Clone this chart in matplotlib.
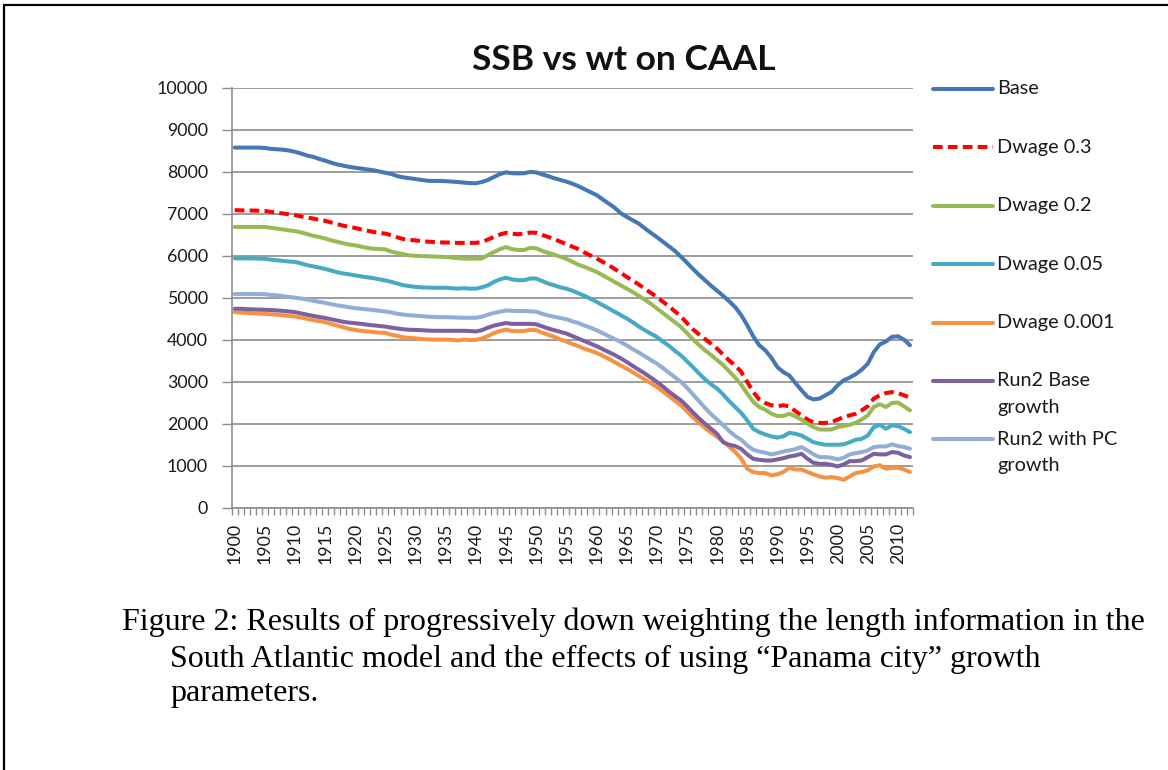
import numpy as np
import matplotlib
matplotlib.use("Agg")
import matplotlib.pyplot as plt
from matplotlib.lines import Line2D

W, H = 1168, 770

years = np.arange(1900, 2013)

base = [8580, 8580, 8580, 8580, 8580, 8570, 8550, 8540, 8530, 8510,
        8480, 8440, 8390, 8360, 8310, 8270, 8220, 8180, 8150, 8120,
        8100, 8080, 8060, 8040, 8010, 7980, 7950, 7900, 7870, 7850,
        7830, 7810, 7790, 7785, 7785, 7780, 7770, 7760, 7745, 7735,
        7730, 7760, 7810, 7880, 7950, 7990, 7970, 7965, 7970, 8000,
        7990, 7940, 7900, 7850, 7810, 7770, 7720, 7660, 7590, 7520,
        7450, 7350, 7250, 7150, 7020, 6930, 6850, 6770, 6660, 6550,
        6450, 6340, 6230, 6120, 5980, 5840, 5690, 5550, 5420, 5290,
        5170, 5050, 4920, 4780, 4590, 4350, 4085, 3870, 3750, 3575,
        3350, 3230, 3150, 2970, 2800, 2640, 2580, 2600, 2680, 2760,
        2920, 3035, 3100, 3180, 3290, 3430, 3710, 3890, 3960, 4070,
        4085, 4005, 3870]

dwage_03 = [7090, 7085, 7080, 7080, 7075, 7070, 7050, 7030, 7010, 6990,
            6970, 6940, 6915, 6890, 6860, 6835, 6795, 6755, 6720, 6690,
            6665, 6630, 6600, 6570, 6550, 6530, 6490, 6440, 6400, 6380,
            6370, 6350, 6340, 6330, 6320, 6320, 6315, 6310, 6310, 6310,
            6310, 6330, 6390, 6450, 6510, 6550, 6530, 6515, 6530, 6555,
            6550, 6500, 6450, 6400, 6340, 6280, 6220, 6160, 6080, 6010,
            5940, 5860, 5780, 5690, 5600, 5500, 5410, 5320, 5220, 5120,
            5025, 4910, 4800, 4680, 4560, 4400, 4250, 4130, 4020, 3910,
            3790, 3650, 3510, 3390, 3240, 3000, 2760, 2580, 2495, 2440,
            2420, 2440, 2415, 2300, 2200, 2100, 2035, 2020, 2020, 2040,
            2100, 2160, 2200, 2240, 2320, 2415, 2600, 2680, 2730, 2755,
            2730, 2680, 2620]

dwage_02 = [6690, 6690, 6690, 6690, 6690, 6690, 6670, 6650, 6630, 6610,
            6590, 6560, 6520, 6480, 6450, 6415, 6370, 6335, 6300, 6270,
            6250, 6220, 6190, 6170, 6165, 6155, 6100, 6070, 6040, 6010,
            6000, 5995, 5990, 5985, 5980, 5975, 5960, 5945, 5935, 5935,
            5935, 5940, 6020, 6090, 6160, 6210, 6160, 6140, 6140, 6190,
            6180, 6120, 6070, 6030, 5980, 5930, 5860, 5790, 5740, 5680,
            5620, 5540, 5460, 5380, 5300, 5220, 5140, 5050, 4960, 4860,
            4750, 4640, 4530, 4420, 4310, 4160, 4010, 3880, 3750, 3640,
            3520, 3400, 3250, 3100, 2930, 2720, 2520, 2400, 2335, 2240,
            2185, 2185, 2240, 2175, 2100, 2000, 1920, 1865, 1860, 1865,
            1920, 1945, 1975, 2025, 2100, 2200, 2400, 2465, 2400, 2495,
            2505, 2415, 2320]

dwage_005 = [5940, 5940, 5940, 5940, 5935, 5930, 5910, 5895, 5880, 5865,
             5855, 5820, 5780, 5750, 5720, 5690, 5650, 5610, 5580, 5560,
             5535, 5510, 5490, 5470, 5440, 5415, 5380, 5340, 5300, 5280,
             5260, 5250, 5245, 5240, 5240, 5240, 5230, 5220, 5230, 5220,
             5220, 5250, 5300, 5380, 5440, 5480, 5440, 5420, 5420, 5460,
             5460, 5400, 5340, 5300, 5250, 5220, 5170, 5110, 5050, 4980,
             4905, 4830, 4750, 4670, 4590, 4510, 4420, 4320, 4230, 4150,
             4070, 3960, 3860, 3740, 3630, 3490, 3350, 3200, 3060, 2940,
             2840, 2700, 2540, 2400, 2260, 2080, 1880, 1800, 1745, 1700,
             1670, 1700, 1785, 1760, 1720, 1640, 1560, 1525, 1500, 1500,
             1500, 1510, 1560, 1620, 1640, 1720, 1920, 1975, 1880, 1960,
             1945, 1880, 1800]

dwage_0001 = [4660, 4650, 4640, 4630, 4625, 4620, 4610, 4600, 4585, 4570,
              4555, 4530, 4500, 4470, 4445, 4420, 4380, 4340, 4300, 4260,
              4235, 4215, 4200, 4185, 4170, 4165, 4120, 4090, 4060, 4045,
              4035, 4020, 4010, 4005, 4005, 4005, 4000, 3985, 4005, 3995,
              4000, 4030, 4090, 4160, 4210, 4245, 4210, 4205, 4210, 4235,
              4230, 4170, 4120, 4070, 4010, 3960, 3900, 3850, 3790, 3740,
              3690, 3620, 3550, 3470, 3390, 3315, 3230, 3140, 3055, 2970,
              2880, 2770, 2660, 2550, 2440, 2300, 2150, 2030, 1900, 1790,
              1690, 1580, 1460, 1330, 1170, 930, 850, 825, 825, 770,
              795, 850, 950, 910, 910, 850, 795, 745, 715, 730,
              705, 665, 745, 825, 850, 890, 985, 1010, 930, 950,
              950, 910, 850]

run2_base = [4740, 4740, 4730, 4725, 4720, 4715, 4710, 4700, 4690, 4675,
             4660, 4630, 4600, 4570, 4545, 4520, 4490, 4460, 4430, 4410,
             4395, 4380, 4360, 4345, 4330, 4315, 4290, 4270, 4250, 4240,
             4235, 4230, 4220, 4215, 4215, 4215, 4215, 4215, 4215, 4210,
             4200, 4230, 4290, 4340, 4370, 4400, 4380, 4380, 4380, 4380,
             4370, 4320, 4270, 4230, 4190, 4150, 4090, 4030, 3970, 3910,
             3850, 3780, 3710, 3640, 3560, 3475, 3380, 3290, 3200, 3100,
             3000, 2890, 2770, 2660, 2560, 2420, 2270, 2130, 2000, 1880,
             1760, 1560, 1500, 1470, 1400, 1270, 1165, 1140, 1125, 1125,
             1150, 1180, 1220, 1245, 1285, 1165, 1070, 1045, 1045, 1020,
             985, 1030, 1110, 1110, 1125, 1205, 1285, 1270, 1270, 1325,
             1310, 1245, 1205]

run2_pc = [5090, 5090, 5090, 5090, 5090, 5085, 5070, 5060, 5040, 5020,
           5005, 4985, 4960, 4930, 4905, 4880, 4850, 4820, 4800, 4775,
           4755, 4740, 4725, 4710, 4690, 4675, 4650, 4620, 4600, 4585,
           4575, 4565, 4550, 4545, 4540, 4540, 4535, 4530, 4525, 4525,
           4525, 4550, 4600, 4640, 4670, 4700, 4690, 4685, 4685, 4680,
           4670, 4620, 4580, 4550, 4520, 4490, 4440, 4400, 4340, 4290,
           4230, 4160, 4090, 4020, 3950, 3870, 3780, 3700, 3610, 3520,
           3435, 3330, 3220, 3110, 3000, 2860, 2700, 2540, 2380, 2230,
           2100, 1970, 1830, 1710, 1620, 1485, 1380, 1340, 1310, 1270,
           1300, 1340, 1365, 1395, 1445, 1365, 1270, 1205, 1205, 1190,
           1150, 1190, 1270, 1300, 1325, 1365, 1445, 1460, 1460, 1510,
           1470, 1445, 1405]

labels = ["Base", "Dwage 0.3", "Dwage 0.2", "Dwage 0.05", "Dwage 0.001",
          "Run2 Base\ngrowth", "Run2 with PC\ngrowth"]
series = [base, dwage_03, dwage_02, dwage_005, dwage_0001, run2_base, run2_pc]
colors = ["#4576b5", "#ff0000", "#98b954", "#46aac5", "#f69240",
          "#7d60a0", "#93add6"]
styles = ["-", (0, (2.4, 1.3)), "-", "-", "-", "-", "-"]

caption = ["Figure 2: Results of progressively down weighting the length information in the",
           "South Atlantic model and the effects of using \u201cPanama city\u201d growth",
           "parameters."]

plt.rcParams["font.family"] = ["Lato", "DejaVu Sans"]

fig = plt.figure(figsize=(W / 100, H / 100), dpi=100)


def fx(px):
    return px / W


def fy(py):
    return 1 - py / H


# plot area in pixel terms
left, right, top, bottom = 231.7, 913.0, 88.0, 507.7
ax = fig.add_axes([fx(left), fy(bottom), fx(right - left), (bottom - top) / H])

idx = np.arange(len(years))
for vals, c, ls in zip(series, colors, styles):
    ax.plot(idx, vals, color=c, lw=2.9, ls=ls, solid_capstyle="round",
            dash_capstyle="butt", solid_joinstyle="round")

ax.set_xlim(-0.5, len(years) - 0.5)
ax.set_ylim(0, 10000)
ax.set_yticks(np.arange(0, 10001, 1000))
ax.yaxis.grid(True, color="#8c8c8c", lw=1.2)
ax.set_axisbelow(True)

lab_pos = idx[years % 5 == 0]
ax.set_xticks(lab_pos)
ax.set_xticklabels([str(y) for y in years[years % 5 == 0]], rotation=90)
ax.set_xticks(np.arange(-0.5, len(years)), minor=True)
ax.tick_params(axis="x", which="major", length=0, pad=11, labelsize=12.8,
               labelcolor="#1a1a1a")
ax.tick_params(axis="x", which="minor", length=5, width=1, color="#8c8c8c")
ax.tick_params(axis="y", length=7, width=1, color="#8c8c8c", pad=10,
               labelsize=12.8, labelcolor="#1a1a1a")

for s in ["top", "right"]:
    ax.spines[s].set_visible(False)
for s in ["left", "bottom"]:
    ax.spines[s].set_color("#8c8c8c")
    ax.spines[s].set_linewidth(1.2)

fig.text(fx(624), fy(60), "SSB vs wt on CAAL", ha="center", va="center",
         fontsize=25.5, fontweight="bold", color="#111111")

# legend drawn by hand so two-line labels keep the key on the first line
for k, (lab, c, ls) in enumerate(zip(labels, colors, styles)):
    y0 = 89 + 58.4 * k
    fig.add_artist(Line2D([fx(933), fx(993)], [fy(y0), fy(y0)], color=c,
                          lw=2.9, ls=ls, solid_capstyle="round",
                          dash_capstyle="butt"))
    for j, part in enumerate(lab.split("\n")):
        fig.text(fx(997), fy(y0 + 26 * j), part, ha="left", va="center",
                 fontsize=14.3, color="#1a1a1a")

cap_x = [122, 170, 170]
cap_y = [622, 659, 694]
for t, x0, y0 in zip(caption, cap_x, cap_y):
    fig.text(fx(x0), fy(y0), t, ha="left", va="center", fontsize=23,
             family="Liberation Serif", color="black")

# page frame
fig.add_artist(Line2D([fx(3.5), fx(3.5), fx(W)], [0, fy(4.5), fy(4.5)],
                      color="black", lw=1.6, solid_joinstyle="miter"))

fig.savefig("out.png", dpi=100)
